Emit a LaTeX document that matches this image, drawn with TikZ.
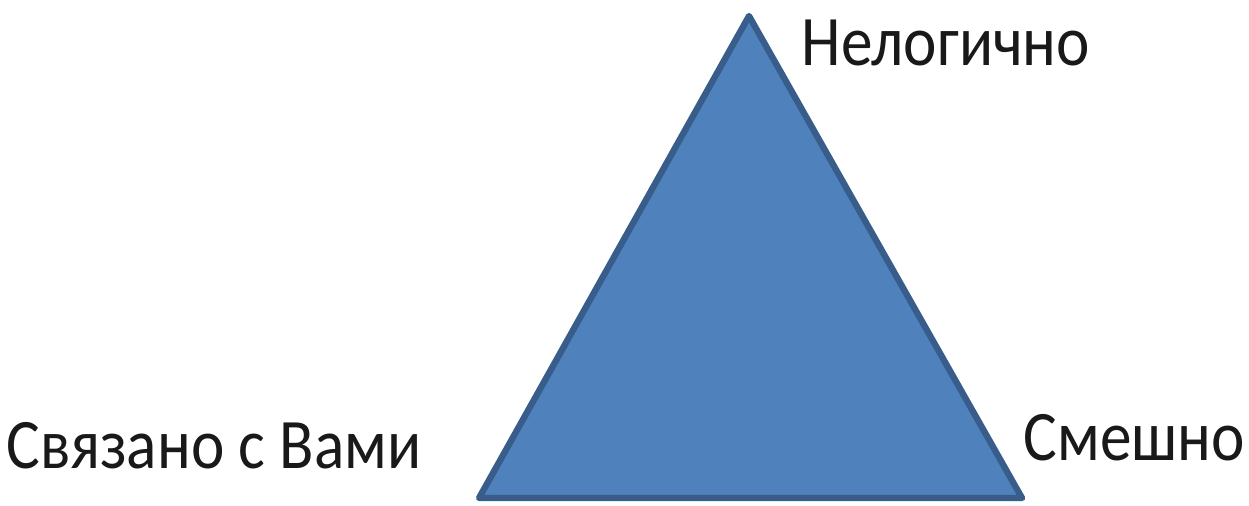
\documentclass[tikz,border=0pt]{standalone}
\usepackage{fontspec}
\setmainfont[FakeStretch=0.89]{Carlito}
\definecolor{triFill}{HTML}{4F81BD}
\definecolor{triEdge}{HTML}{385D8A}
\begin{document}
\begin{tikzpicture}[
    x=0.01cm, y=-0.01cm,
    font=\fontsize{20.2pt}{24pt}\selectfont,
    tri/.style={fill=triFill, draw=triEdge, line width=1.8pt, line join=round},
    corner/.style={anchor=base west, inner sep=0pt, color=black!90},
]
    % ============= Frame =============
    \useasboundingbox (0,0) rectangle (1249,505);

    % ============= Triangle =============
    \coordinate (top) at (749,16);
    \coordinate (left) at (479,498);
    \coordinate (right) at (1022,498);
    \draw[tri] (top) -- (right) -- (left) -- cycle;

    % ============= Corner labels =============
    \node[corner] (illogical) at (801,65) {Нелогично};
    \node[corner] (related) at (6,468) {Связано с Вами};
    \node[corner] (funny) at (1023,460) {Смешно};
\end{tikzpicture}
\end{document}
